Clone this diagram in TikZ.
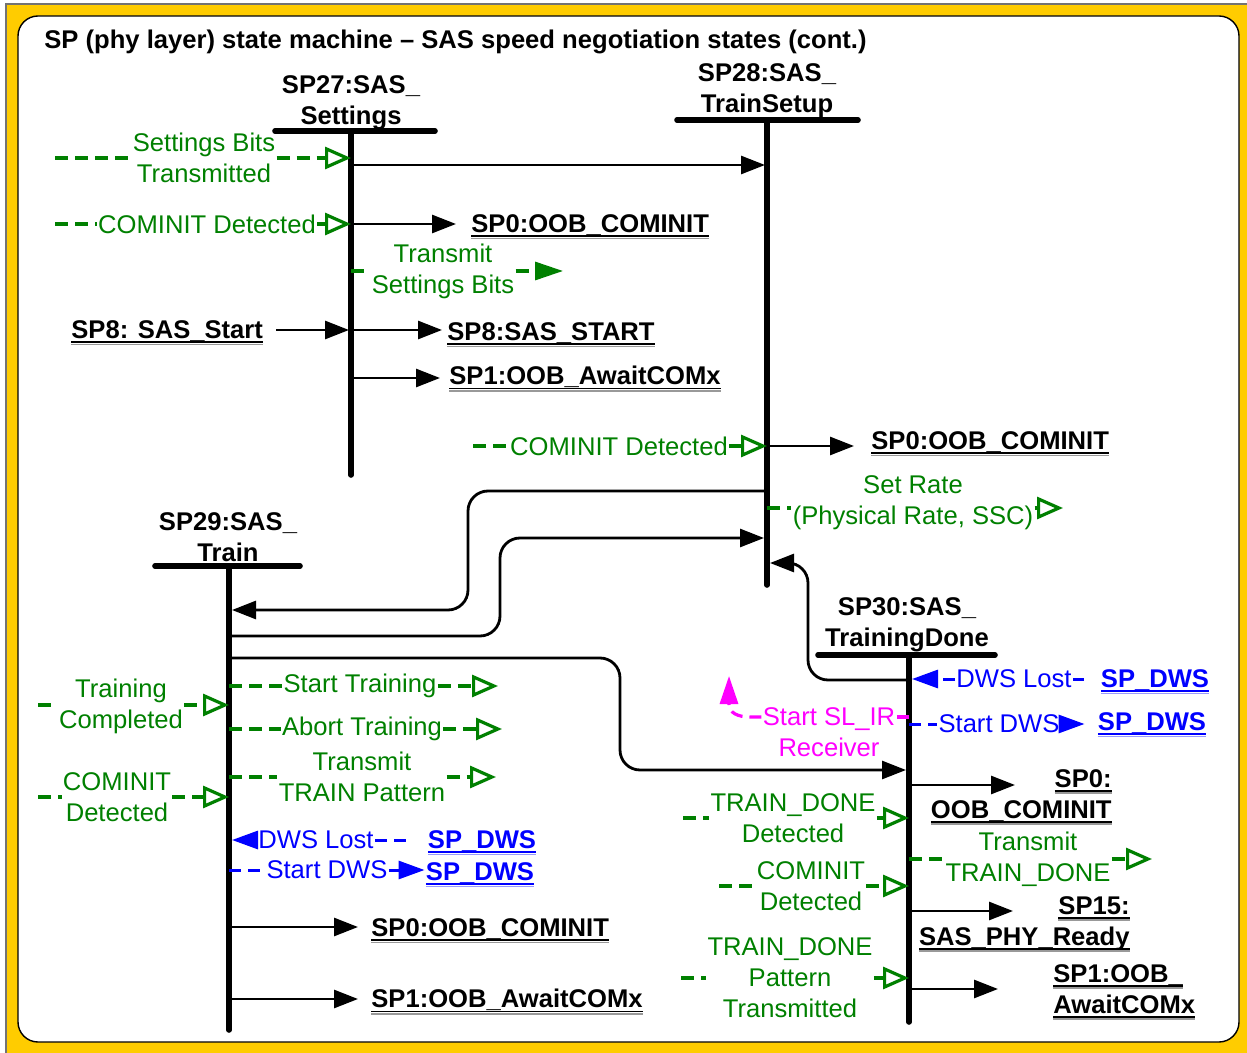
\documentclass[tikz,border=0pt]{standalone}
\usepackage{fontspec}
\setmainfont{Liberation Sans}
\usetikzlibrary{arrows.meta}
\definecolor{frameyellow}{HTML}{FFCC00}
\definecolor{sigreen}{HTML}{008000}
\definecolor{siblue}{HTML}{0000FF}
\definecolor{simag}{HTML}{FF00FF}
% underlined state name with a light shadow rule under the underline
\newsavebox{\ulbox}
\newcommand{\ulsh}[1]{\sbox{\ulbox}{#1}\rlap{\usebox{\ulbox}}\rlap{\rule[-2.2pt]{\wd\ulbox}{0.9pt}}{\color{.!40}\rule[-3.3pt]{\wd\ulbox}{0.7pt}}}
\begin{document}
\begin{tikzpicture}[x=0.5pt,y=-0.5pt,
  bar/.style={line width=2.8pt, line cap=round},
  arr/.style={line width=1.4pt, -{Triangle[length=12pt,width=9pt]}, shorten >=1pt},
  conn/.style={line width=1.4pt, rounded corners=10pt, -{Triangle[length=12pt,width=9pt]}, shorten >=1.5pt},
  gdash/.style={sigreen, line width=1.6pt, dash pattern=on 6.5pt off 3.5pt},
  gopen/.style={-{Triangle[open,length=13pt,width=11pt]}},
  gfill/.style={-{Triangle[length=14pt,width=9pt]}},
  bdash/.style={siblue, line width=1.5pt, dash pattern=on 6pt off 3.5pt},
  bline/.style={siblue, line width=1.5pt},
  bfill/.style={-{Triangle[length=13pt,width=9pt]}},
  mdash/.style={simag, line width=1.6pt, dash pattern=on 6pt off 3.5pt},
  txt/.style={inner sep=0.5pt, align=center, font=\fontsize{12.8}{15.5}\selectfont},
  gtxt/.style={txt, text=sigreen},
  btxt/.style={txt, text=siblue},
  tgt/.style={txt, font=\fontsize{12.8}{15.5}\selectfont\bfseries},
  bttxt/.style={tgt, text=siblue},
  stt/.style={tgt},
]
\useasboundingbox (0,0) rectangle (1247,1053);

% frame
\fill[white] (0,0) rectangle (1247,1053);
\fill[frameyellow] (6,4) rectangle (1247,1053);
\draw[black!55, line width=1pt] (6,1053) -- (6,4) -- (1247,4);
\draw[fill=white, line width=0.7pt, rounded corners=10pt] (18,16) rectangle (1239,1042);

\node[tgt, anchor=west] (title) at (43,42) {SP (phy layer) state machine – SAS speed negotiation states (cont.)};

% state bars
\node[stt] (n27) at (351,103) {SP27:SAS\_\\Settings};
\draw[bar] (275,131) -- (435,131);
\coordinate (b27) at (351,131);
\coordinate (b27e) at (351,475);
\draw[bar] (b27) -- (b27e);

\node[stt] (n28) at (767,91) {SP28:SAS\_\\TrainSetup};
\draw[bar] (677,120) -- (858,120);
\coordinate (b28) at (767,120);
\coordinate (b28e) at (767,585);
\draw[bar] (b28) -- (b28e);

\node[stt] (n29) at (228,537) {SP29:SAS\_\\Train};
\draw[bar] (155,566) -- (300,566);
\coordinate (b29) at (229,566);
\coordinate (b29e) at (229,1030);
\draw[bar] (b29) -- (b29e);

\node[stt] (n30) at (907,625) {SP30:SAS\_\\TrainingDone};
\draw[bar] (818,655) -- (995,655);
\coordinate (b30) at (909,655);
\coordinate (b30e) at (909,1022);
\draw[bar] (b30) -- (b30e);

% ---- SP27
\node[gtxt] (g1) at (204,158) {Settings Bits\\Transmitted};
\coordinate (g1s) at (55,158);
\draw[gdash] (g1s) -- (g1.west);
\draw[gdash, gopen] (g1.east) -- (b27 |- g1.east);
\draw[arr] (b27 |- 0,165) -- (b28 |- 0,165);

\node[gtxt] (g2) at (207,224) {COMINIT Detected};
\coordinate (g2s) at (55,224);
\draw[gdash] (g2s) -- (g2.west);
\draw[gdash, gopen] (g2.east) -- (b27 |- g2.east);
\node[tgt, anchor=west] (t1) at (470,227) {\ulsh{SP0:OOB\_COMINIT}};
\draw[arr, shorten >=7pt] (b27 |- 0,224) -- (t1.west |- 0,224);

\node[gtxt] (g3) at (443,271) {Transmit\\Settings Bits};
\draw[gdash] (b27 |- g3.west) -- (g3.west);
\coordinate (g3e) at (563,271);
\draw[gdash, gfill] (g3.east) -- (g3e);

\node[tgt, anchor=west] (t2) at (70,333) {\ulsh{SP8: SAS\_Start}};
\draw[arr, shorten <=6pt] (t2.east |- 0,330) -- (b27 |- 0,330);
\node[tgt, anchor=west] (t3) at (446,335) {\ulsh{SP8:SAS\_START}};
\draw[arr, shorten >=2pt] (b27 |- 0,330) -- (t3.west |- 0,330);
\node[tgt, anchor=west] (t4) at (448,379) {\ulsh{SP1:OOB\_AwaitCOMx}};
\draw[arr, shorten >=4pt] (b27 |- 0,378) -- (t4.west |- 0,378);

% ---- SP28
\node[gtxt] (g4) at (619,446) {COMINIT Detected};
\coordinate (g4s) at (473,446);
\draw[gdash] (g4s) -- (g4.west);
\draw[gdash, gopen] (g4.east) -- (b28 |- g4.east);
\node[tgt, anchor=west] (t5) at (870,444) {\ulsh{SP0:OOB\_COMINIT}};
\draw[arr, shorten >=8pt] (b28 |- 0,446) -- (t5.west |- 0,446);

\node[gtxt] (g5) at (913,503) {Set Rate\\(Physical Rate, SSC)};
\draw[gdash] (b28 |- 0,508) -- (g5.west |- 0,508);
\coordinate (g5e) at (1063,508);
\draw[gdash, gopen] (g5.east |- 0,508) -- (g5e);

% ---- connectors between states
\draw[conn] (b28 |- 0,491) -- (468,491) -- (468,610) -- (b29 |- 0,610);
\draw[conn] (b29 |- 0,636) -- (500,636) -- (500,538) -- (b28 |- 0,538);
\draw[conn] (b29 |- 0,658) -- (620,658) -- (620,770) -- (b30 |- 0,770);
\draw[conn] (b30 |- 0,680) -- (808,680) -- (808,563) -- (b28 |- 0,563);

% ---- SP29
\node[gtxt] (g6) at (121,706) {Training\\Completed};
\coordinate (g6s) at (38,705);
\draw[gdash] (g6s) -- (g6.west |- g6s);
\draw[gdash, gopen] (g6.east |- g6s) -- (b29 |- g6s);

\node[gtxt] (g7) at (117,797) {COMINIT\\Detected};
\coordinate (g7s) at (38,797);
\draw[gdash] (g7s) -- (g7.west);
\draw[gdash, gopen] (g7.east) -- (b29 |- g7.east);

\node[gtxt] (g8) at (360,686) {Start Training};
\draw[gdash] (b29 |- g8.west) -- (g8.west);
\coordinate (g8e) at (498,686);
\draw[gdash, gopen] (g8.east) -- (g8e);

\node[gtxt] (g9) at (362,729) {Abort Training};
\draw[gdash] (b29 |- g9.west) -- (g9.west);
\coordinate (g9e) at (502,729);
\draw[gdash, gopen] (g9.east) -- (g9e);

\node[gtxt] (g10) at (362,777) {Transmit\\TRAIN Pattern};
\draw[gdash] (b29 |- g10.west) -- (g10.west);
\coordinate (g10e) at (496,777);
\draw[gdash, gopen] (g10.east) -- (g10e);

\node[btxt] (d1) at (316,840) {DWS Lost};
\draw[bline, bfill, shorten >=1.5pt] (d1.west) -- (b29 |- d1.west);
\node[bttxt] (w1) at (482,843) {\ulsh{SP\_DWS}};
\draw[bdash, shorten >=8pt] (d1.east) -- (w1.west |- d1.east);

\node[btxt] (d2) at (327,870) {Start DWS};
\draw[bdash] (b29 |- d2.west) -- (d2.west);
\node[bttxt] (w2) at (480,875) {\ulsh{SP\_DWS}};
\draw[bline, bfill] (d2.east) -- (w2.west |- d2.east);

\node[tgt, anchor=west] (t6) at (370,931) {\ulsh{SP0:OOB\_COMINIT}};
\draw[arr, shorten >=6pt] (b29 |- 0,927) -- (t6.west |- 0,927);
\node[tgt, anchor=west] (t7) at (370,1002) {\ulsh{SP1:OOB\_AwaitCOMx}};
\draw[arr, shorten >=6pt] (b29 |- 0,999) -- (t7.west |- 0,999);

% ---- SP30
\node[btxt] (d3) at (1014,679) {DWS Lost};
\draw[bdash, bfill, shorten >=1.5pt] (d3.west) -- (b30 |- d3.west);
\node[bttxt] (w3) at (1155,682) {\ulsh{SP\_DWS}};
\draw[bdash, shorten >=8pt] (d3.east) -- (w3.west |- d3.east);

\node[txt, text=simag] (m1) at (829,732) {Start SL\_IR\\Receiver};
\draw[mdash] (b30 |- 0,717) -- (m1.east |- 0,717);
\coordinate (mtip) at (729,676);
\draw[mdash, -{Triangle[length=14pt,width=9pt]}] (m1.west |- 0,717) -- (750,717) .. controls (738,717) and (729,713) .. (729,704) -- (mtip);

\node[btxt] (d4) at (999,724) {Start DWS};
\draw[bdash] (b30 |- d4.west) -- (d4.west);
\node[bttxt] (w4) at (1152,725) {\ulsh{SP\_DWS}};
\draw[bline, bfill, shorten >=6pt] (d4.east) -- (w4.west |- d4.east);

\node[tgt, align=right, anchor=east] (t8) at (1113,797) {\ulsh{SP0:}\\\ulsh{OOB\_COMINIT}};
\coordinate (t8a) at (1017,785);
\draw[arr] (b30 |- t8a) -- (t8a);

\node[gtxt] (g11) at (793,818) {TRAIN\_DONE\\Detected};
\coordinate (g11s) at (683,818);
\draw[gdash] (g11s) -- (g11.west);
\draw[gdash, gopen] (g11.east) -- (b30 |- g11.east);

\node[gtxt] (g12) at (1028,859) {Transmit\\TRAIN\_DONE};
\draw[gdash] (b30 |- g12.west) -- (g12.west);
\coordinate (g12e) at (1152,859);
\draw[gdash, gopen] (g12.east) -- (g12e);

\node[gtxt] (g13) at (811,886) {COMINIT\\Detected};
\coordinate (g13s) at (719,886);
\draw[gdash] (g13s) -- (g13.west);
\draw[gdash, gopen] (g13.east) -- (b30 |- g13.east);

\node[tgt, align=right, anchor=east] (t9) at (1131,924) {\ulsh{SP15:}\\\ulsh{SAS\_PHY\_Ready}};
\coordinate (t9a) at (1015,911);
\draw[arr] (b30 |- t9a) -- (t9a);

\node[gtxt] (g14) at (790,978) {TRAIN\_DONE\\Pattern\\Transmitted};
\coordinate (g14s) at (681,978);
\draw[gdash] (g14s) -- (g14.west |- g14s);
\draw[gdash, gopen] (g14.east) -- (b30 |- g14.east);

\node[tgt, align=left, anchor=west] (t10) at (1052,992) {\ulsh{SP1:OOB\_}\\\ulsh{AwaitCOMx}};
\coordinate (t10a) at (1000,989);
\draw[arr] (b30 |- t10a) -- (t10a);
\end{tikzpicture}
\end{document}
